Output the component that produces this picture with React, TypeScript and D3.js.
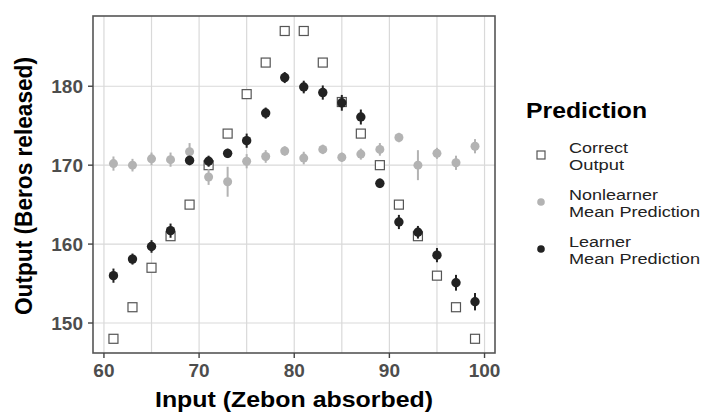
import * as React from "react";
import * as d3 from "d3";

// input values (x)
const inputs = [61, 63, 65, 67, 69, 71, 73, 75, 77, 79, 81, 83, 85, 87, 89, 91, 93, 95, 97, 99];
// correct output (squares)
const correctOutput = [148, 152, 157, 161, 165, 170, 174, 179, 183, 187, 187, 183, 178, 174, 170, 165, 161, 156, 152, 148];
// nonlearner mean prediction + error half-width
const nonlearnerMean = [170.2, 170.0, 170.8, 170.7, 171.7, 168.5, 167.9, 170.5, 171.1, 171.8, 170.9, 172.0, 171.0, 171.4, 172.0, 173.5, 170.0, 171.5, 170.3, 172.4];
const nonlearnerErr = [0.9, 0.8, 0.8, 0.9, 1.1, 1.0, 1.9, 0.9, 0.8, 0.6, 0.8, 0.6, 0.6, 0.7, 0.8, 0.6, 1.9, 0.7, 0.9, 0.9];
// learner mean prediction + error half-width
const learnerMean = [156.0, 158.1, 159.7, 161.7, 170.6, 170.5, 171.5, 173.1, 176.6, 181.1, 179.9, 179.2, 177.9, 176.1, 167.7, 162.8, 161.5, 158.6, 155.1, 152.7];
const learnerErr = [0.9, 0.7, 0.8, 0.9, 0.6, 0.7, 0.6, 0.9, 0.7, 0.7, 0.8, 0.9, 1.0, 0.95, 0.6, 0.9, 0.8, 0.9, 1.0, 1.1];

const xTicks = [60, 70, 80, 90, 100];
const xGrid = [60, 65, 70, 75, 80, 85, 90, 95, 100];
const yTicks = [150, 160, 170, 180];

const legendItems = [
  { kind: "square", lines: ["Correct", "Output"], widths: [59, 55] },
  { kind: "grey", lines: ["Nonlearner", "Mean Prediction"], widths: [89, 131] },
  { kind: "black", lines: ["Learner", "Mean Prediction"], widths: [62, 131] },
];

const FONT = "'Liberation Sans', Arial, sans-serif";
const GREY = "#b3b3b3";
const BLACK = "#222222";

export default function App() {
  const width = 704;
  const height = 414;
  const panel = { left: 93, top: 16, right: 495, bottom: 353 };

  const x = d3.scaleLinear().domain([58.85, 101.1]).range([panel.left, panel.right]);
  const y = d3.scaleLinear().domain([146.2, 188.9]).range([panel.bottom, panel.top]);

  return (
    <svg
      width={width}
      height={height}
      style={{ position: "absolute", left: 0, top: 0, background: "#fff" }}
      fontFamily={FONT}
    >
      <rect x={0} y={0} width={width} height={height} fill="#fff" />
      {/* grid */}
      <g stroke="#d9d9d9" strokeWidth={1.2}>
        {xGrid.map((v) => (
          <line key={"gx" + v} x1={x(v)} x2={x(v)} y1={panel.top} y2={panel.bottom} />
        ))}
        {yTicks.map((v) => (
          <line key={"gy" + v} x1={panel.left} x2={panel.right} y1={y(v)} y2={y(v)} />
        ))}
      </g>

      {/* correct output squares */}
      <g>
        {inputs.map((v, i) => (
          <rect
            key={"sq" + i}
            x={x(v) - 4.5}
            y={y(correctOutput[i]) - 4.5}
            width={9}
            height={9}
            fill="#fff"
            stroke="#555"
            strokeWidth={1.2}
          />
        ))}
      </g>

      {/* nonlearner */}
      <g>
        {inputs.map((v, i) => (
          <g key={"nl" + i}>
            <line
              x1={x(v)}
              x2={x(v)}
              y1={y(nonlearnerMean[i] - nonlearnerErr[i])}
              y2={y(nonlearnerMean[i] + nonlearnerErr[i])}
              stroke={GREY}
              strokeWidth={2}
            />
            <circle cx={x(v)} cy={y(nonlearnerMean[i])} r={4.5} fill={GREY} />
          </g>
        ))}
      </g>

      {/* learner */}
      <g>
        {inputs.map((v, i) => (
          <g key={"l" + i}>
            <line
              x1={x(v)}
              x2={x(v)}
              y1={y(learnerMean[i] - learnerErr[i])}
              y2={y(learnerMean[i] + learnerErr[i])}
              stroke={BLACK}
              strokeWidth={2}
            />
            <circle cx={x(v)} cy={y(learnerMean[i])} r={4.7} fill={BLACK} />
          </g>
        ))}
      </g>

      {/* panel border */}
      <rect
        x={panel.left}
        y={panel.top}
        width={panel.right - panel.left}
        height={panel.bottom - panel.top}
        fill="none"
        stroke="#555"
        strokeWidth={1.6}
      />

      {/* axes ticks and labels */}
      <g fill="#4d4d4d" fontWeight="bold" fontSize={19}>
        {xTicks.map((v) => (
          <g key={"xt" + v}>
            <line x1={x(v)} x2={x(v)} y1={panel.bottom} y2={panel.bottom + 5} stroke="#444" strokeWidth={1.4} />
            <text x={x(v)} y={377} textAnchor="middle">{v}</text>
          </g>
        ))}
        {yTicks.map((v) => (
          <g key={"yt" + v}>
            <line x1={panel.left - 5} x2={panel.left} y1={y(v)} y2={y(v)} stroke="#444" strokeWidth={1.4} />
            <text x={83} y={y(v) + 6.8} textAnchor="end">{v}</text>
          </g>
        ))}
      </g>

      {/* axis titles */}
      <text
        x={(panel.left + panel.right) / 2}
        y={407}
        textAnchor="middle"
        fontWeight="bold"
        fontSize={22}
        fill="#000"
        textLength={278}
        lengthAdjust="spacingAndGlyphs"
      >
        Input (Zebon absorbed)
      </text>
      <text
        transform={`translate(31.5, 186) rotate(-90)`}
        textAnchor="middle"
        fontWeight="bold"
        fontSize={24}
        fill="#000"
        textLength={258}
        lengthAdjust="spacingAndGlyphs"
      >
        Output (Beros released)
      </text>

      {/* legend */}
      <text x={526} y={118} fontWeight="bold" fontSize={22} fill="#000" textLength={121} lengthAdjust="spacingAndGlyphs">
        Prediction
      </text>
      {legendItems.map((item, i) => {
        const cy = 155 + i * 47;
        return (
          <g key={"lg" + i}>
            {item.kind === "square" ? (
              <rect x={537} y={cy - 4} width={8} height={8} fill="#fff" stroke="#555" strokeWidth={1.2} />
            ) : (
              <circle cx={541} cy={cy} r={3.8} fill={item.kind === "grey" ? GREY : BLACK} />
            )}
            {item.lines.map((t, j) => (
              <text
                key={j}
                x={569}
                y={cy - 2.5 + j * 17.5}
                fontSize={15.5}
                fill="#222"
                textLength={item.widths[j]}
                lengthAdjust="spacingAndGlyphs"
              >
                {t}
              </text>
            ))}
          </g>
        );
      })}
    </svg>
  );
}
